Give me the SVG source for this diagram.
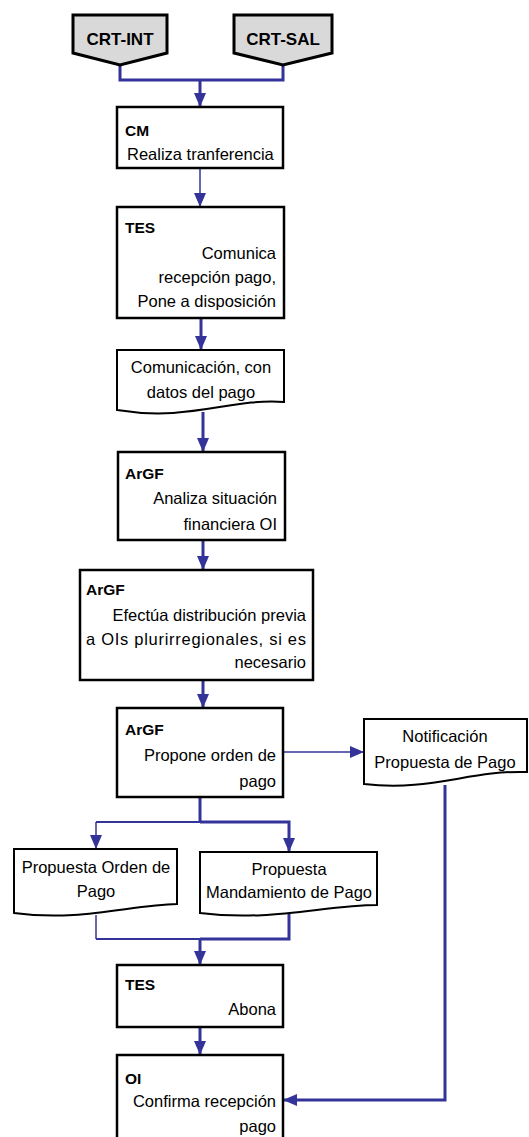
<svg xmlns="http://www.w3.org/2000/svg" width="529" height="1137" viewBox="0 0 529 1137">
<style>
.box{fill:#fff;stroke:#000;stroke-width:2.5}
.doc{fill:#fff;stroke:#000;stroke-width:2}
.crt{fill:#d9d9d9;stroke:#000;stroke-width:3}
.t{font-family:"Liberation Sans",Arial,sans-serif;font-size:16.5px;fill:#000}
.b{font-family:"Liberation Sans",Arial,sans-serif;font-size:15.5px;font-weight:bold;fill:#000}
.bl{font-family:"Liberation Sans",Arial,sans-serif;font-size:17px;font-weight:bold;fill:#000}
.c{fill:none;stroke:#333399;stroke-width:3}
.cm{fill:none;stroke:#333399;stroke-width:2.2}
.ct{fill:none;stroke:#333399;stroke-width:1.5}
</style>
<defs>
<marker id="ah" markerWidth="14" markerHeight="12" refX="13" refY="6" orient="auto" markerUnits="userSpaceOnUse">
<path d="M0,0 L14,6 L0,12 Z" fill="#333399"/>
</marker>
</defs>
<rect width="529" height="1137" fill="#fff"/>
<g id="connectors">
<path class="c" d="M120,65 V80 H283 V65"/>
<path class="c" d="M200,80 V106" marker-end="url(#ah)"/>
<path class="ct" d="M200,168 V206" marker-end="url(#ah)"/>
<path class="c" d="M201,318 V349" marker-end="url(#ah)"/>
<path class="c" d="M203,412 V451" marker-end="url(#ah)"/>
<path class="c" d="M203,540 V569" marker-end="url(#ah)"/>
<path class="c" d="M203,680 V707" marker-end="url(#ah)"/>
<path class="ct" d="M283,752 H363" marker-end="url(#ah)"/>
<path class="c" d="M200,797 V822"/>
<path class="cm" d="M200,822 H96"/>
<path class="ct" d="M96,822 V848" marker-end="url(#ah)"/>
<path class="c" d="M200,822 H289 V851" marker-end="url(#ah)"/>
<path class="ct" d="M96,915 V939"/>
<path class="cm" d="M96,939 H200"/>
<path class="c" d="M289,912 V939 H200"/>
<path class="c" d="M200,939 V964" marker-end="url(#ah)"/>
<path class="c" d="M200,1027 V1054" marker-end="url(#ah)"/>
<path class="c" d="M445,785 V1100 H284" marker-end="url(#ah)"/>
</g>
<g id="crt-int">
<path class="crt" d="M73,15 H167 V53 L120,65 L73,53 Z"/>
<text class="bl" x="120" y="45" text-anchor="middle">CRT-INT</text>
</g>
<g id="crt-sal">
<path class="crt" d="M234,15 H332 V53 L283,65 L234,53 Z"/>
<text class="bl" x="283" y="45" text-anchor="middle">CRT-SAL</text>
</g>
<g id="cm">
<rect class="box" x="117" y="107" width="166" height="61"/>
<text class="b" x="125" y="136">CM</text>
<text class="t" x="127" y="160">Realiza tranferencia</text>
</g>
<g id="tes1">
<rect class="box" x="117" y="207" width="167" height="111"/>
<text class="b" x="125" y="233">TES</text>
<text class="t" x="276" y="259" text-anchor="end">Comunica</text>
<text class="t" x="276" y="283" text-anchor="end">recepción pago,</text>
<text class="t" x="276" y="307" text-anchor="end">Pone a disposición</text>
</g>
<g id="comunicacion">
<path class="doc" d="M117,350 H284 V402 C230,398 190,422 117,410 Z"/>
<text class="t" x="201" y="373" text-anchor="middle">Comunicación, con</text>
<text class="t" x="201" y="398" text-anchor="middle">datos del pago</text>
</g>
<g id="argf1">
<rect class="box" x="118" y="452" width="167" height="88"/>
<text class="b" x="125" y="479">ArGF</text>
<text class="t" x="277" y="504" text-anchor="end">Analiza situación</text>
<text class="t" x="277" y="530" text-anchor="end">financiera OI</text>
</g>
<g id="argf2">
<rect class="box" x="80" y="570" width="233" height="110"/>
<text class="b" x="86" y="595">ArGF</text>
<text class="t" x="306" y="621" text-anchor="end">Efectúa distribución previa</text>
<text class="t" x="86" y="645" textLength="220" lengthAdjust="spacing">a OIs plurirregionales, si es</text>
<text class="t" x="306" y="668" text-anchor="end">necesario</text>
</g>
<g id="argf3">
<rect class="box" x="117" y="708" width="166" height="89"/>
<text class="b" x="125" y="735">ArGF</text>
<text class="t" x="276" y="761" text-anchor="end">Propone orden de</text>
<text class="t" x="276" y="787" text-anchor="end">pago</text>
</g>
<g id="notificacion">
<path class="doc" d="M364,719 H527 V772 C470,770 430,792 364,784 Z"/>
<text class="t" x="445" y="742" text-anchor="middle">Notificación</text>
<text class="t" x="445" y="768" text-anchor="middle">Propuesta de Pago</text>
</g>
<g id="propuesta-orden">
<path class="doc" d="M14,849 H177 V904 C130,905 80,922 14,913 Z"/>
<text class="t" x="96" y="873" text-anchor="middle">Propuesta Orden de</text>
<text class="t" x="96" y="897" text-anchor="middle">Pago</text>
</g>
<g id="propuesta-mandamiento">
<path class="doc" d="M200,852 H377 V905 C325,905 270,922 200,913 Z"/>
<text class="t" x="289" y="875" text-anchor="middle">Propuesta</text>
<text class="t" x="289" y="898" text-anchor="middle">Mandamiento de Pago</text>
</g>
<g id="tes2">
<rect class="box" x="117" y="965" width="166" height="62"/>
<text class="b" x="125" y="990">TES</text>
<text class="t" x="276" y="1015" text-anchor="end">Abona</text>
</g>
<g id="oi">
<rect class="box" x="117" y="1055" width="166" height="90"/>
<text class="b" x="125" y="1084">OI</text>
<text class="t" x="276" y="1107" text-anchor="end">Confirma recepción</text>
<text class="t" x="276" y="1132" text-anchor="end">pago</text>
</g>
</svg>
